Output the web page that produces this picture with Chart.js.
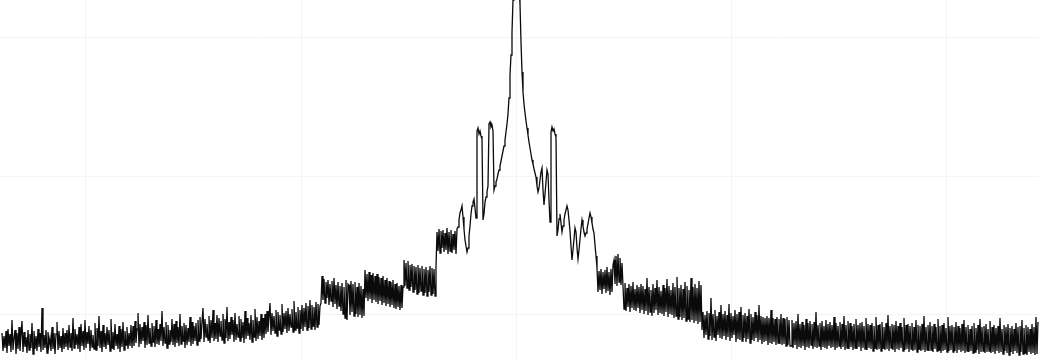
<!DOCTYPE html>
<html>
<head>
<meta charset="utf-8">
<script src="https://cdn.jsdelivr.net/npm/chart.js@4/dist/chart.umd.min.js"></script>
<style>
  html, body { margin: 0; padding: 0; background: #ffffff; }
  #wrap { width: 1039px; height: 360px; }
</style>
</head>
<body>
<div id="wrap"><canvas id="spectrum" width="1039" height="360"></canvas></div>
<script>
// Spectrum trace, one level per frequency bin (arbitrary units).
const leftSkirt = [
  27,9,24,12,29,7,31,14,26,8,40,10,22,30,6,27,11,33,9,25,
  39,8,28,13,23,7,30,10,26,12,37,6,29,11,24,9,31,13,27,8,
  52,10,25,12,30,7,28,15,22,9,33,11,27,6,26,38,10,29,12,24,
  8,32,11,27,13,
  30,10,35,13,27,9,42,12,31,15,26,11,33,8,36,14,29,10,40,12,
  28,16,34,9,30,13,25,11,37,10,32,14,44,12,29,8,35,13,27,11,
  33,15,30,9,41,12,28,10,36,14,26,11,34,8,31,13,38,10,29,15,
  33,11,27,14,35,12,
  34,14,39,17,31,47,13,36,16,33,19,38,12,35,15,45,17,32,14,37,
  18,34,13,40,16,31,15,36,19,49,14,33,17,38,12,35,16,30,18,41,
  15,36,13,39,17,33,14,46,16,34,19,37,12,35,15,32,18,43,14,38,
  16,34,19,37,15,40,
  19,43,21,38,52,18,41,23,36,20,44,17,40,22,50,19,37,21,45,18,
  42,24,39,20,46,17,41,22,53,19,38,21,43,25,40,18,47,20,36,23,
  44,19,41,22,38,17,49,21,42,24,37,20,45,18,40,23,51,19,43,21,
  39,24,46,20,42,22,
  46,26,49,28,43,57,25,47,29,44,27,50,24,48,30,45,26,56,28,47,
  31,49,27,52,29,46,33,51,28,59,30,48,32,53,27,50,31,55,29,52,
  33,57,30,54,32,60,31,55,34,53,30,58,33,56,35,54,57
];
const leftShoulder = [
  84,60,81,57,78,62,80,55,76,59,79,53,82,56,75,51,78,54,74,49,
  77,46,73,42,80,40,76,
  75,45,79,48,76,44,78,46,73,43,77,45,74,42,71,44,
  90,62,86,59,88,61,85,57,87,60,84,58,86,56,83,59,82,55,84,57,
  80,54,82,56,79,53,78,55,80,52,76,51,77,53,74,50,75,52,73,
  100,74,97,72,99,70,95,73,96,68,94,70,93,66,95,67,92,69,94,65,
  91,67,93,64,90,68,94,65,92,66,91,64,93,
  128,109,131,107,129,112,130,108,127,110,132,106,128,109,130,107,126,110,129,106,131
];
const centre = [
  133,140,147,150,154,143,131,120,114,108,112,124,134,146,154,158,161,152,142,
  229,232,226,229,224,221,
  140,146,158,163,168,174,
  236,238,233,235,229,
  170,174,178,181,186,190,194,199,204,209,214,220,228,236,246,262,285,305,328,360,
  400,440,470,430,392,372,356,318,288,268,256,247,239,232,225,218,212,206,200,196,
  191,187,183,174,168,172,180,188,192,170,155,166,178,190,186,160,138,
  228,233,229,231,226,223,
  124,130,141,146,137,128,134,140,146,150,154,150,140,129,114,100,110,121,132,128,
  112,101,110,121,131,140,134,128,124,127,131,136,142,147,143,137,131,127,115,104
];
const rightShoulder = [
  92,68,89,70,91,66,88,71,90,67,93,69,88,65,91,68,95,
  100,76,104,74,106,78,102,75,97,
  74,51,77,49,72,53,76,48,74,52,78,50,71,49,75,52,73,47,76,50,
  74,46,71,49,82,45,73,48,70,44,76,47,72,50,80,45,73,47,69,46,
  75,44,72,48,81,43,74,46,70,45,77,42,73,44,83,41,72,43,75,40,
  71,42,78,39,74,41,70,38,82,40,73,37,76,39,72,36,79,38,75
];
const rightSkirt = [
  30,48,22,45,25,49,21,47,24,62,20,46,23,50,19,44,25,48,22,55,
  21,46,24,49,20,45,23,56,19,47,22,44,25,50,18,46,21,48,20,53,
  19,45,22,47,18,44,21,51,17,46,20,43,19,48,22,45,18,55,20,44,
  16,43,18,42,19,44,15,42,17,50,16,42,18,41,15,43,17,41,16,46,
  15,42,16,41,14,43,15,40,14,
  14,40,12,37,15,39,11,46,13,36,12,38,14,35,10,41,13,37,12,39,
  15,36,11,38,13,48,12,35,14,37,10,39,13,34,12,40,11,36,14,38,
  12,35,13,43,10,37,12,34,14,38,11,36,13,44,10,35,12,39,11,37,
  13,34,10,36,12,41,11,35,13,37,9,38,12,34,11,42,10,36,12,35,
  11,37,9,34,12,43,10,35,11,36,9,38,12,33,10,37,11,45,9,34,
  12,36,10,35,8,39,11,34,10,37,12,33,9,42,10,35,11,36,8,34,
  11,37,9,33,10,40,8,35,11,34,9,36,10,44,8,33,10,35,9,38,
  10,34,8,36,11,33,9,41,10,34,7,35,9,37,10,32,8,43,9,34,
  10,35,8,33,9,38,7,34,10,32,8,36,9,40,7,33,9,35,8,31,
  9,34,7,37,8,32,10,35,6,41,8,33,9,34,7,36,8,31,9,39,
  7,33,8,35,6,32,9,34,7,42,8,31,6,35,9,33,7,36,5,32,
  8,34,6,31,9,37,7,33,5,34,8,40,6,32,7,35,5,33,8,31,
  6,36,7,33,5,43,6,38
];

// Frequency axis: uniform bins, carrier at bin 514.
const binStep = 1 / 215;
const carrierBin = 514;
const freqMin = -516 / 215;
const freqMax = 523 / 215;
const freqGrid = [-2, -1, 0, 1, 2];
const levelGrid = [46, 184, 322];
const levelMin = 0;
const levelMax = 360;

const levels = [].concat(leftSkirt, leftShoulder, centre, rightShoulder, rightSkirt);
const points = levels.map((v, i) => ({ x: (i - carrierBin) * binStep, y: v }));

new Chart(document.getElementById('spectrum'), {
  type: 'line',
  data: {
    datasets: [{
      data: points,
      borderColor: '#0b0b0b',
      borderWidth: 1.3,
      pointRadius: 0,
      tension: 0,
      fill: false
    }]
  },
  options: {
    responsive: false,
    animation: false,
    events: [],
    layout: { padding: 0 },
    plugins: { legend: { display: false }, tooltip: { enabled: false } },
    scales: {
      x: {
        type: 'linear',
        min: freqMin,
        max: freqMax,
        afterBuildTicks: (s) => { s.ticks = freqGrid.map(v => ({ value: v })); },
        ticks: { display: false },
        border: { display: false },
        grid: { color: '#f4f4f4', lineWidth: 1, drawTicks: false }
      },
      y: {
        type: 'linear',
        min: levelMin,
        max: levelMax,
        afterBuildTicks: (s) => { s.ticks = levelGrid.map(v => ({ value: v })); },
        ticks: { display: false },
        border: { display: false },
        grid: { color: '#f4f4f4', lineWidth: 1, drawTicks: false }
      }
    }
  }
});
</script>
</body>
</html>
